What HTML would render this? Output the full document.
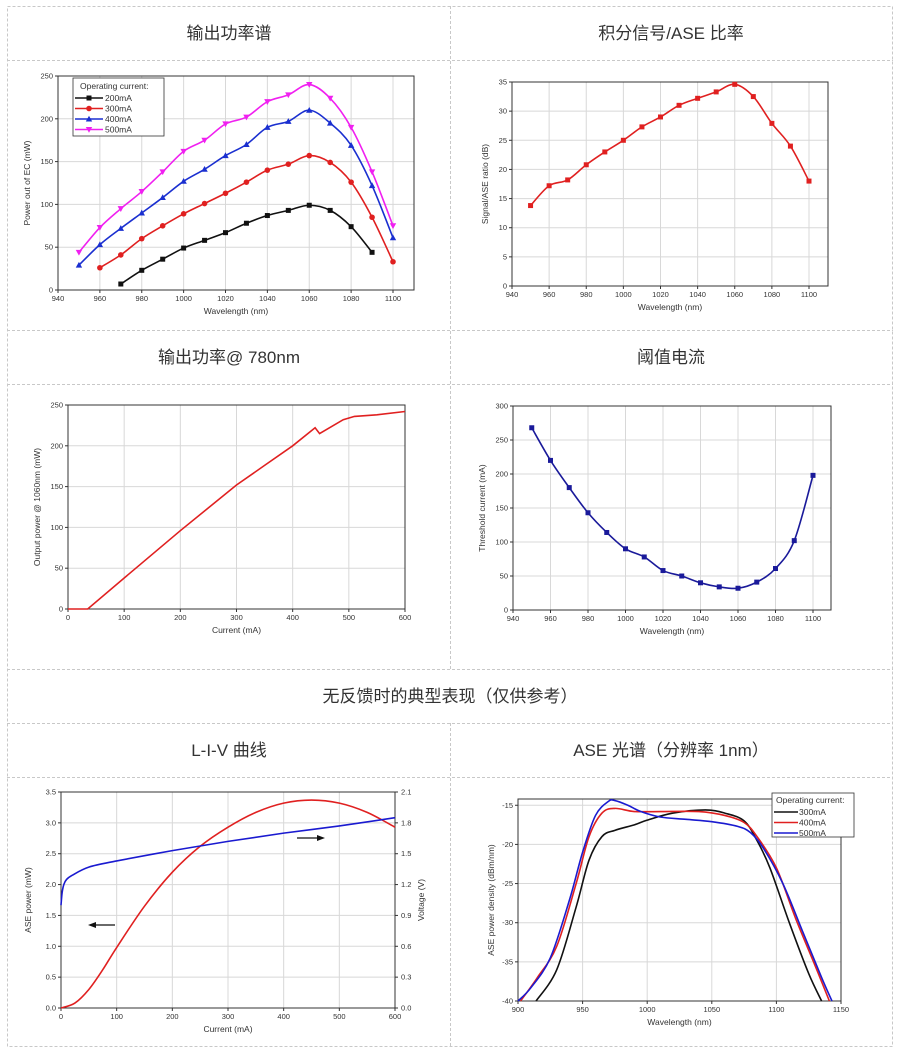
<!DOCTYPE html>
<html><head><meta charset="utf-8">
<style>
html,body{margin:0;padding:0;background:#fff;width:901px;height:1053px;overflow:hidden}
svg{position:absolute;left:0;top:0}
</style></head><body>
<svg id="s" width="901" height="1053" xmlns="http://www.w3.org/2000/svg" font-family="Liberation Sans, sans-serif">
<g stroke="#c8c8c8" stroke-width="1" stroke-dasharray="3,2" fill="none">
<rect x="7.5" y="6.5" width="885" height="1040"/>
<line x1="7" y1="60.5" x2="893" y2="60.5"/>
<line x1="7" y1="330.5" x2="893" y2="330.5"/>
<line x1="7" y1="384.5" x2="893" y2="384.5"/>
<line x1="7" y1="669.5" x2="893" y2="669.5"/>
<line x1="7" y1="723.5" x2="893" y2="723.5"/>
<line x1="7" y1="777.5" x2="893" y2="777.5"/>
<line x1="450.5" y1="6" x2="450.5" y2="669"/>
<line x1="450.5" y1="723" x2="450.5" y2="1047"/>
</g>
<g font-family="Liberation Sans, Noto Sans CJK SC, sans-serif" font-size="17" fill="#333" text-anchor="middle">
<text x="229" y="39">输出功率谱</text>
<text x="671" y="39">积分信号/ASE 比率</text>
<text x="229" y="363">输出功率@ 780nm</text>
<text x="671" y="363">阈值电流</text>
<text x="450" y="702">无反馈时的典型表现（仅供参考）</text>
<text x="229" y="756">L-I-V 曲线</text>
<text x="671" y="756">ASE  光谱（分辨率  1nm）</text>
</g>
<g id="c"></g>
</svg>
<script>
const NS="http://www.w3.org/2000/svg",C=document.getElementById('c');
function el(t,a,txt){const e=document.createElementNS(NS,t);for(const k in a)e.setAttribute(k,a[k]);if(txt!==undefined)e.textContent=txt;C.appendChild(e);return e;}
function path(pts,smooth){if(!smooth)return 'M'+pts.map(p=>p[0].toFixed(1)+','+p[1].toFixed(1)).join('L');
 let d='M'+pts[0][0]+','+pts[0][1];for(let i=0;i<pts.length-1;i++){const p0=pts[i-1]||pts[i],p1=pts[i],p2=pts[i+1],p3=pts[i+2]||p2;
 d+=`C${p1[0]+(p2[0]-p0[0])/6},${p1[1]+(p2[1]-p0[1])/6} ${p2[0]-(p3[0]-p1[0])/6},${p2[1]-(p3[1]-p1[1])/6} ${p2[0]},${p2[1]}`;}return d;}
function axes(o){
 const X=v=>o.x0+(v-o.xa)/(o.xb-o.xa)*(o.x1-o.x0), Y=v=>o.y1-(v-o.ya)/(o.yb-o.ya)*(o.y1-o.y0);
 const R=o.boxR||o.x1;
 el('rect',{x:o.x0,y:o.y0,width:R-o.x0,height:o.y1-o.y0,fill:'#fff',stroke:'none'});
 o.xt.forEach(v=>{el('line',{x1:X(v),x2:X(v),y1:o.y0,y2:o.y1,stroke:'#d8d8d8','stroke-width':1});
  el('line',{x1:X(v),x2:X(v),y1:o.y1,y2:o.y1+3,stroke:'#333'});
  el('text',{x:X(v),y:o.y1+11,'font-size':7.5,'text-anchor':'middle',fill:'#333'},o.xl?o.xl(v):v);});
 o.yt.forEach(v=>{el('line',{x1:o.x0,x2:R,y1:Y(v),y2:Y(v),stroke:'#d8d8d8','stroke-width':1});
  el('line',{x1:o.x0-3,x2:o.x0,y1:Y(v),y2:Y(v),stroke:'#333'});
  el('text',{x:o.x0-5,y:Y(v)+2.5,'font-size':7.5,'text-anchor':'end',fill:'#333'},o.yl?o.yl(v):v);});
 el('rect',{x:o.x0,y:o.y0,width:R-o.x0,height:o.y1-o.y0,fill:'none',stroke:'#333','stroke-width':1});
 el('text',{x:(o.x0+R)/2,y:o.y1+24,'font-size':8.5,'text-anchor':'middle',fill:'#333'},o.xlab);
 const ly=(o.y0+o.y1)/2, lx=o.x0-(o.ylo||30);
 el('text',{x:lx,y:ly,'font-size':8.5,'text-anchor':'middle',fill:'#333',transform:`rotate(-90 ${lx} ${ly})`},o.ylab);
 return [X,Y];
}
function series(X,Y,data,col,mk,smooth){
 const pts=data.map(d=>[X(d[0]),Y(d[1])]);
 el('path',{d:path(pts,smooth),fill:'none',stroke:col,'stroke-width':1.6});
 if(mk)pts.forEach(p=>marker(p[0],p[1],mk,col));
}
function marker(x,y,mk,col){
 if(mk=='s')el('rect',{x:x-2.5,y:y-2.5,width:5,height:5,fill:col});
 else if(mk=='c')el('circle',{cx:x,cy:y,r:2.8,fill:col});
 else if(mk=='t')el('path',{d:`M${x},${y-3.3}L${x+3.2},${y+2.5}L${x-3.2},${y+2.5}Z`,fill:col});
 else if(mk=='v')el('path',{d:`M${x},${y+3.3}L${x+3.2},${y-2.5}L${x-3.2},${y-2.5}Z`,fill:col});
}
const range=(a,b,s)=>{const r=[];for(let v=a;v<=b+1e-9;v+=s)r.push(+v.toFixed(3));return r;};
// chart 1
(()=>{const [X,Y]=axes({x0:58,x1:393,xa:940,xb:1100,boxR:414,y0:76,y1:290,ya:0,yb:250,xt:range(940,1100,20),yt:range(0,250,50),xlab:'Wavelength (nm)',ylab:'Power out of EC (mW)',ylo:28});
 const w=a=>a.map((v,i)=>v);
 const mk=(s,arr)=>arr.map((v,i)=>[s+10*i,v]);
 series(X,Y,mk(970,[7,23,36,49,58,67,78,87,93,99,93,74,44]),'#111','s',1);
 series(X,Y,mk(960,[26,41,60,75,89,101,113,126,140,147,157,149,126,85,33]),'#e02020','c',1);
 series(X,Y,mk(950,[29,53,72,90,108,127,141,157,170,190,197,210,195,169,122,61]),'#1a2fd0','t',1);
 series(X,Y,mk(950,[44,73,95,115,138,162,175,194,202,220,228,240,224,190,138,75]),'#f020f0','v',1);
 el('rect',{x:73,y:78,width:91,height:58,fill:'#fff',stroke:'#333','stroke-width':0.8});
 el('text',{x:80,y:89,'font-size':8.5,fill:'#333'},'Operating current:');
 [['200mA','#111','s'],['300mA','#e02020','c'],['400mA','#1a2fd0','t'],['500mA','#f020f0','v']].forEach((l,i)=>{const y=98+i*10.5;
  el('line',{x1:75,x2:103,y1:y,y2:y,stroke:l[1],'stroke-width':1.6});marker(89,y,l[2],l[1]);
  el('text',{x:105,y:y+3,'font-size':8.5,fill:'#333'},l[0]);});
})();
// chart 2
(()=>{const [X,Y]=axes({x0:512,x1:809,xa:940,xb:1100,boxR:828,y0:82,y1:286,ya:0,yb:35,xt:range(940,1100,20),yt:range(0,35,5),xlab:'Wavelength (nm)',ylab:'Signal/ASE ratio (dB)',ylo:24});
 series(X,Y,[13.8,17.2,18.2,20.8,23,25,27.3,29,31,32.2,33.3,34.6,32.5,27.9,24,18].map((v,i)=>[950+10*i,v]),'#e02020','s',1);
})();
// chart 3
(()=>{const [X,Y]=axes({x0:68,x1:405,xa:0,xb:600,y0:405,y1:609,ya:0,yb:250,xt:range(0,600,100),yt:range(0,250,50),xlab:'Current (mA)',ylab:'Output power @ 1060nm (mW)',ylo:28});
 series(X,Y,[[0,0],[35,0],[100,38],[200,96],[300,152],[350,176],[400,200],[440,222],[448,215],[490,232],[510,236],[550,238],[600,242]],'#e02020',null,0);
})();
// chart 4
(()=>{const [X,Y]=axes({x0:513,x1:813,xa:940,xb:1100,boxR:831,y0:406,y1:610,ya:0,yb:300,xt:range(940,1100,20),yt:range(0,300,50),xlab:'Wavelength (nm)',ylab:'Threshold current (mA)',ylo:28});
 series(X,Y,[268,220,180,143,114,90,78,58,50,40,34,32,41,61,102,198].map((v,i)=>[950+10*i,v]),'#1a1a9a','s',1);
})();
// chart 5
(()=>{const [X,Y]=axes({x0:61,x1:395,xa:0,xb:600,y0:792,y1:1008,ya:0,yb:3.5,xt:range(0,600,100),yt:range(0,3.5,0.5),yl:v=>v.toFixed(1),xlab:'Current (mA)',ylab:'ASE power (mW)',ylo:30});
 const Y2=v=>1008-v/2.1*216;
 range(0,2.1,0.3).forEach(v=>{el('line',{x1:395,x2:398,y1:Y2(v),y2:Y2(v),stroke:'#333'});el('text',{x:401,y:Y2(v)+2.5,'font-size':7.5,fill:'#333'},v.toFixed(1));});
 el('text',{x:424,y:900,'font-size':8.5,'text-anchor':'middle',fill:'#333',transform:'rotate(-90 424 900)'},'Voltage (V)');
 const p=[[0,0],[25,0.08],[50,0.3],[75,0.62],[100,0.98],[150,1.65],[200,2.2],[250,2.62],[300,2.93],[350,3.17],[400,3.32],[450,3.37],[500,3.32],[550,3.17],[600,2.93]];
 el('path',{d:path(p.map(d=>[X(d[0]),Y(d[1])]),1),fill:'none',stroke:'#e02020','stroke-width':1.6});
 const v=[[0,1.0],[2,1.12],[5,1.2],[10,1.25],[20,1.29],[50,1.37],[100,1.43],[200,1.53],[300,1.62],[400,1.70],[500,1.77],[600,1.85]];
 el('path',{d:path(v.map(d=>[X(d[0]),Y2(d[1])]),1),fill:'none',stroke:'#1a1ad0','stroke-width':1.6});
 el('line',{x1:115,x2:94,y1:925,y2:925,stroke:'#111','stroke-width':1.2});el('path',{d:'M88,925L96,922L96,928Z',fill:'#111'});
 el('line',{x1:297,x2:318,y1:838,y2:838,stroke:'#111','stroke-width':1.2});el('path',{d:'M325,838L317,835L317,841Z',fill:'#111'});
})();
// chart 6
(()=>{const [X,Y]=axes({x0:518,x1:841,xa:900,xb:1150,y0:799,y1:1001,ya:-40,yb:-14.2,xt:range(900,1150,50),yt:[-40,-35,-30,-25,-20,-15],xlab:'Wavelength (nm)',ylab:'ASE power density (dBm/nm)',ylo:24});
 const cl=(d)=>d.map(q=>[X(q[0]),Y(q[1])]);
 const b=[[914,-40],[930,-36],[945,-28],[955,-22],[965,-19],[975,-18.2],[990,-17.5],[1000,-16.9],[1020,-16],[1045,-15.6],[1060,-16],[1075,-17],[1085,-19.5],[1095,-23],[1110,-30],[1125,-36.5],[1135,-40]];
 const r=[[902,-40],[915,-37],[930,-33],[945,-25],[955,-19],[965,-16],[975,-15.4],[990,-15.8],[1010,-15.8],[1040,-15.8],[1060,-16.3],[1075,-17.2],[1085,-19],[1100,-23],[1115,-29.5],[1130,-35.5],[1141,-40]];
 const u=[[900,-40],[910,-38.3],[925,-34.5],[940,-27],[950,-21],[960,-16.3],[970,-14.5],[975,-14.4],[985,-15],[995,-15.8],[1010,-16.5],[1030,-16.8],[1050,-17.1],[1070,-17.7],[1080,-18.5],[1090,-20.5],[1105,-25],[1120,-31],[1135,-37],[1143,-40]];
 el('path',{d:path(cl(b),1),fill:'none',stroke:'#111','stroke-width':1.6});
 el('path',{d:path(cl(r),1),fill:'none',stroke:'#e02020','stroke-width':1.6});
 el('path',{d:path(cl(u),1),fill:'none',stroke:'#1a1ad0','stroke-width':1.6});
 el('rect',{x:772,y:793,width:82,height:44,fill:'#fff',stroke:'#333','stroke-width':0.8});
 el('text',{x:776,y:803,'font-size':8.5,fill:'#333'},'Operating current:');
 [['300mA','#111'],['400mA','#e02020'],['500mA','#1a1ad0']].forEach((l,i)=>{const y=812+i*10.5;
  el('line',{x1:774,x2:798,y1:y,y2:y,stroke:l[1],'stroke-width':1.6});
  el('text',{x:799,y:y+3,'font-size':8.5,fill:'#333'},l[0]);});
})();
</script>
</body></html>
